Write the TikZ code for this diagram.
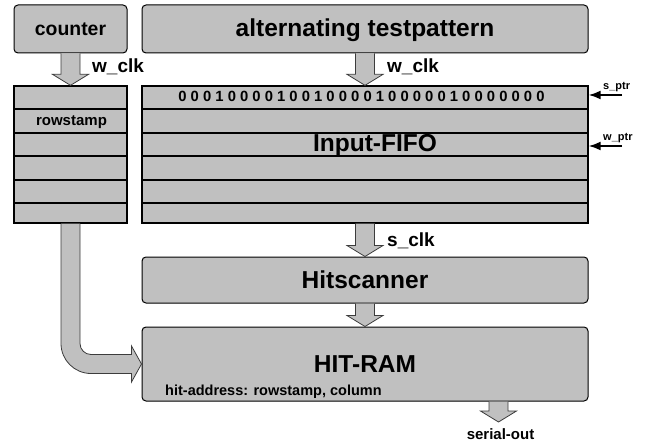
\documentclass[tikz,border=0pt]{standalone}
\usepackage{fontspec}
\setmainfont{Liberation Sans}
\usetikzlibrary{arrows.meta,calc}
\definecolor{boxgray}{RGB}{192,192,192}
\definecolor{fatline}{RGB}{60,60,60}
% fat grey down arrow, from a node side to a target point
\newcommand{\fatdown}[2]{%
	\draw[fat] let \p1=(#1), \p2=(#2) in
	(\x2-9.5pt,\y1) -- (\x2-9.5pt,\y2+11pt) -- (\x2-18pt,\y2+11pt) -- (\x2,\y2)
	-- (\x2+18pt,\y2+11pt) -- (\x2+9.5pt,\y2+11pt) -- (\x2+9.5pt,\y1);}
\begin{document}
\begin{tikzpicture}[x=1pt,y=-1pt,
	box/.style={draw,fill=boxgray,rounded corners=4pt,line width=1pt,inner sep=0pt,
		text height=16pt,text depth=0pt,font=\fontsize{24.5}{29}\selectfont\bfseries},
	row/.style={draw,fill=boxgray,line width=1.3pt,inner sep=0pt},
	fat/.style={fill=boxgray,draw=fatline,line width=0.8pt},
	ptr/.style={-{Latex[length=12pt,width=9pt]},line width=1.8pt},
	mid/.style={inner sep=0pt,anchor=base west,font=\fontsize{19}{22}\selectfont\bfseries},
	small/.style={inner sep=0pt,anchor=base,font=\fontsize{15}{18}\selectfont\bfseries},
	tiny/.style={inner sep=0pt,anchor=base west,font=\fontsize{11}{13}\selectfont\bfseries}]
	\useasboundingbox (0,0) rectangle (655,446);
	\node[box,minimum width=113pt,minimum height=48pt,text height=14pt,
		font=\fontsize{19.4}{23}\selectfont\bfseries] (cnt) at (70.5,29) {counter};
	\node[box,minimum width=446pt,minimum height=48pt] (tp) at (365,29) {alternating testpattern};
	% row stack: rowstamp and Input-FIFO
	\foreach \n/\t/\b in {1/86/109,2/109/133,3/133/156,4/156/180,5/180/203,6/203/223}{
		\node[row,minimum width=113pt,minimum height={\b-\t}] (r\n) at (70.5,{(\t+\b)/2}) {};
		\node[row,minimum width=446pt,minimum height={\b-\t}] (f\n) at (365,{(\t+\b)/2}) {};
	}
	\node[small] (rs) at (71.5,126) {rowstamp};
	\node[inner sep=0pt,anchor=base,font=\fontsize{14.8}{17}\selectfont\bfseries] (bits) at (361.5,102)
		{0 0 0 1 0 0 0 0 1 0 0 1 0 0 0 0 1 0 0 0 0 0 1 0 0 0 0 0 0 0};
	\node[inner sep=0pt,anchor=base,font=\fontsize{24.5}{29}\selectfont\bfseries] (fifo) at (375,152) {Input-FIFO};
	\node[box,minimum width=446pt,minimum height=46pt] (scan) at (365,280) {Hitscanner};
	\node[box,minimum width=446pt,minimum height=74pt] (ram) at (365,364) {HIT-RAM};
	\node[small,anchor=base west,font=\fontsize{14.5}{17}\selectfont\bfseries] (ha) at (165,395) {hit-address: rowstamp, column};
	% clocks
	\fatdown{cnt.south}{r1.north}
	\fatdown{tp.south}{f1.north}
	\fatdown{f6.south}{scan.north}
	\fatdown{scan.south}{ram.north}
	\coordinate (so) at (498.5,422);
	\fatdown{ram.south}{so}
	\node[mid] (wc1) at (92,73) {w\_clk};
	\node[mid] (wc2) at (387,73) {w\_clk};
	\node[mid] (sc) at (387,246) {s\_clk};
	\node[small] (sout) at (500.5,439) {serial-out};
	% rowstamp into HIT-RAM
	\draw[fat] let \p1=(r6.south), \p2=(ram.west) in
		(\x1-9.5pt,\y1) -- (\x1-9.5pt,\y2+20.5pt)
		arc[start angle=180,end angle=270,radius=30pt]
		-- (\x2-10pt,\y2-9.5pt) -- (\x2-10pt,\y2-18pt) -- (\x2,\y2)
		-- (\x2-10pt,\y2+18pt) -- (\x2-10pt,\y2+9.5pt) -- (\x1+20.5pt,\y2+9.5pt)
		arc[start angle=270,end angle=180,radius=11pt]
		-- (\x1+9.5pt,\y1);
	% pointers
	\coordinate (sp) at (622,95);
	\coordinate (wp) at (622,146);
	\draw[ptr] (sp) -- (sp -| f1.east);
	\draw[ptr] (wp) -- (wp -| f3.east);
	\node[tiny] (spl) at (603,90) {s\_ptr};
	\node[tiny] (wpl) at (603,141) {w\_ptr};
\end{tikzpicture}
\end{document}
